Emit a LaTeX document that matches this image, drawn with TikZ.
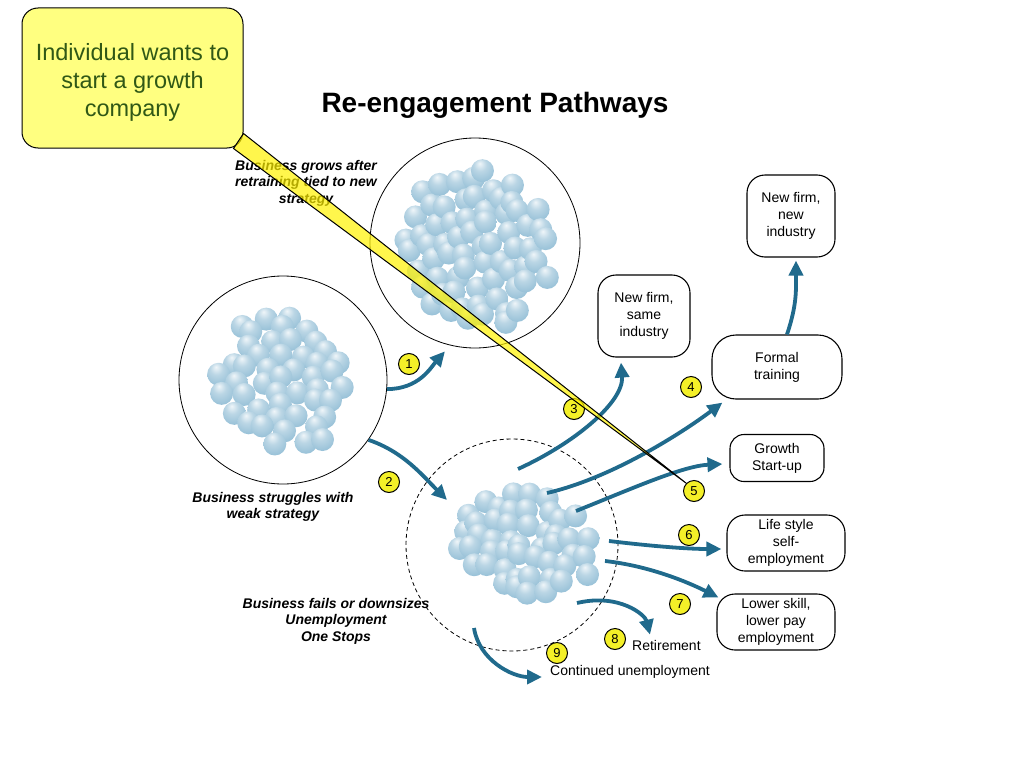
\documentclass[tikz,border=0pt]{standalone}
\usepackage{fontspec}
\setmainfont{Liberation Sans}
\usepackage{xcolor}
\usepackage{tikz}
\usetikzlibrary{arrows.meta}

\definecolor{flow}{RGB}{32,106,140}
\definecolor{bubble}{RGB}{150,192,215}
\definecolor{notecol}{RGB}{255,255,128}
\definecolor{notetext}{RGB}{48,88,22}
\definecolor{tagcol}{RGB}{244,240,40}

\pgfdeclareradialshading{sphere}{\pgfpoint{-6bp}{16bp}}{%
  color(0bp)=(bubble!15!white); color(14bp)=(bubble!65!white);
  color(34bp)=(bubble); color(52bp)=(bubble!80!black); color(70bp)=(bubble!70!black)}

% a cloud of balls on a shaken grid: centre x, centre y, half width, half height, tilt, spacing
\newcommand{\drawbubbles}[6]{%
  \foreach \i in {-6,...,6}{%
    \foreach \j in {-6,...,6}{%
      \pgfmathsetmacro{\u}{\i*#6+5*rand}%
      \pgfmathsetmacro{\v}{\j*#6+5*rand}%
      \pgfmathtruncatemacro{\inside}{((\u/#3)^2+(\v/#4)^2<1) ? 1 : 0}%
      \ifnum\inside=1
        \shade[shading=sphere] ({#1+\u*cos(#5)-\v*sin(#5)},{#2+\u*sin(#5)+\v*cos(#5)}) circle (11.5pt);
      \fi
    }}}

\begin{document}
\begin{tikzpicture}[x=1pt, y=-1pt,
  every node/.style={font=\fontsize{14}{17}\selectfont},
  pool/.style={circle, draw, line width=0.8pt, minimum size=210pt, inner sep=0pt},
  outcome/.style={draw, line width=1.1pt, rounded corners=18pt, align=center, inner sep=2pt},
  tag/.style={circle, draw, fill=tagcol, line width=1pt, minimum size=21pt, inner sep=0pt, font=\fontsize{13}{13}\selectfont},
  note/.style={align=center, inner sep=0pt, font=\bfseries\itshape\fontsize{14}{16.5}\selectfont},
  path/.style={draw=flow, line width=3.8pt, -{Triangle[length=15pt,width=14pt]}}]
\useasboundingbox (0,0) rectangle (1024,768);

% the three pools
\node[pool] (grow) at (475,243) {};
\node[pool, minimum size=208pt] (struggle) at (283,380) {};
\node[pool, dashed, dash pattern=on 4pt off 3pt, minimum size=212pt] (fails) at (512,545) {};

\pgfmathsetseed{11}
\drawbubbles{479}{247}{72}{82}{-20}{17}
\pgfmathsetseed{23}
\drawbubbles{284}{380}{72}{68}{40}{17.5}
\pgfmathsetseed{37}
\drawbubbles{524}{543}{76}{50}{10}{16}

% outcomes
\node[outcome, minimum width=88pt, minimum height=82pt] (newind) at (791,216) {New firm,\\ new\\ industry};
\node[outcome, minimum width=92pt, minimum height=82pt] (samefirm) at (644,316) {New firm,\\ same\\ industry};
\node[outcome, minimum width=130pt, minimum height=64pt, rounded corners=24pt] (formal) at (777,367) {Formal\\ training};
\node[outcome, minimum width=94pt, minimum height=47pt, rounded corners=14pt] (growth) at (777,458) {Growth\\ Start-up};
\node[outcome, minimum width=118pt, minimum height=56pt] (lifestyle) at (786,543) {Life style\\ self-\\ employment};
\node[outcome, minimum width=118pt, minimum height=56pt] (lowerskill) at (776,622) {Lower skill,\\ lower pay\\ employment};
\node[anchor=west, inner sep=0pt] (retire) at (632,645) {Retirement};
\node[anchor=west, inner sep=0pt] (contin) at (550,672) {Continued unemployment};

% tails inside the pool
\coordinate (into) at (447,500);
\coordinate (t3) at (518,469);
\coordinate (t4) at (547,493);
\coordinate (t5) at (576,511);
\coordinate (t6) at (609,541);
\coordinate (t7) at (605,561);
\coordinate (t8) at (577,603);
\coordinate (t9) at (474,628);

\draw[path] (struggle.-5) .. controls +(32,0) and +(-14,16) .. ([xshift=-1pt,yshift=-7pt]grow.-106);
\draw[path] (struggle.-35) .. controls +(35,12) and +(-25,-25) .. (into);
\draw[path] (t3) .. controls +(55,-25) and +(3,40) .. ([xshift=-23pt,yshift=-5pt]samefirm.south);
\draw[path] (t4) .. controls +(65,-15) and +(-40,30) .. ([xshift=11pt,yshift=-3pt]formal.south west);
\draw[path] (t5) .. controls +(55,-22) and +(-40,2) .. ([xshift=-7pt,yshift=-6pt]growth.west);
\draw[path] (t6) .. controls +(50,6) and +(-30,0) .. ([xshift=-5pt,yshift=-6pt]lifestyle.west);
\draw[path] (t7) .. controls +(45,5) and +(-30,-15) .. ([xshift=2pt,yshift=-4pt]lowerskill.north west);
\draw[path] (t8) .. controls +(42,-10) and +(-5,-20) .. ([xshift=18pt,yshift=5pt]retire.north west);
\draw[path] (t9) .. controls +(5,32) and +(-30,0) .. ([xshift=-8pt,yshift=-5pt]contin.west);
\draw[path] ([xshift=10pt]formal.north) .. controls +(10,-30) and +(0,30) .. ([xshift=5pt,yshift=-3pt]newind.south);

% captions
\node[note] (lblgrow) at (306,183) {Business grows after\\ retraining tied to new\\ strategy};
\node[note] (lblstruggle) at (273,507) {Business struggles with\\ weak strategy};
\node[note] (lblfail) at (336,621) {Business fails or downsizes\\ Unemployment\\ One Stops};

% numbered pathways
\node[tag] (n1) at (409,364) {1};
\node[tag] (n2) at (389,482) {2};
\node[tag] (n3) at (574,409) {3};
\node[tag] (n4) at (691,387) {4};
\node[tag] (n5) at (694,491) {5};
\node[tag] (n6) at (689,535) {6};
\node[tag] (n7) at (680,604) {7};
\node[tag] (n8) at (615,639) {8};
\node[tag] (n9) at (557,653) {9};

\node[font=\bfseries\fontsize{28}{28}\selectfont] (title) at (495,105) {Re-engagement Pathways};

% callout
\node[draw, line width=1pt, fill=notecol, rounded corners=16pt, minimum width=221pt, minimum height=140pt,
  align=center, text=notetext, font=\fontsize{23.5}{28}\selectfont] (idea) at (132.5,78) {\rule{0pt}{25pt}Individual wants to\\ start a growth\\ company};
\draw[fill=yellow, fill opacity=0.7, line width=1pt] ([yshift=15pt]idea.south east) -- (n5.north west) -- ([xshift=-10pt]idea.south east) -- cycle;
\end{tikzpicture}
\end{document}
